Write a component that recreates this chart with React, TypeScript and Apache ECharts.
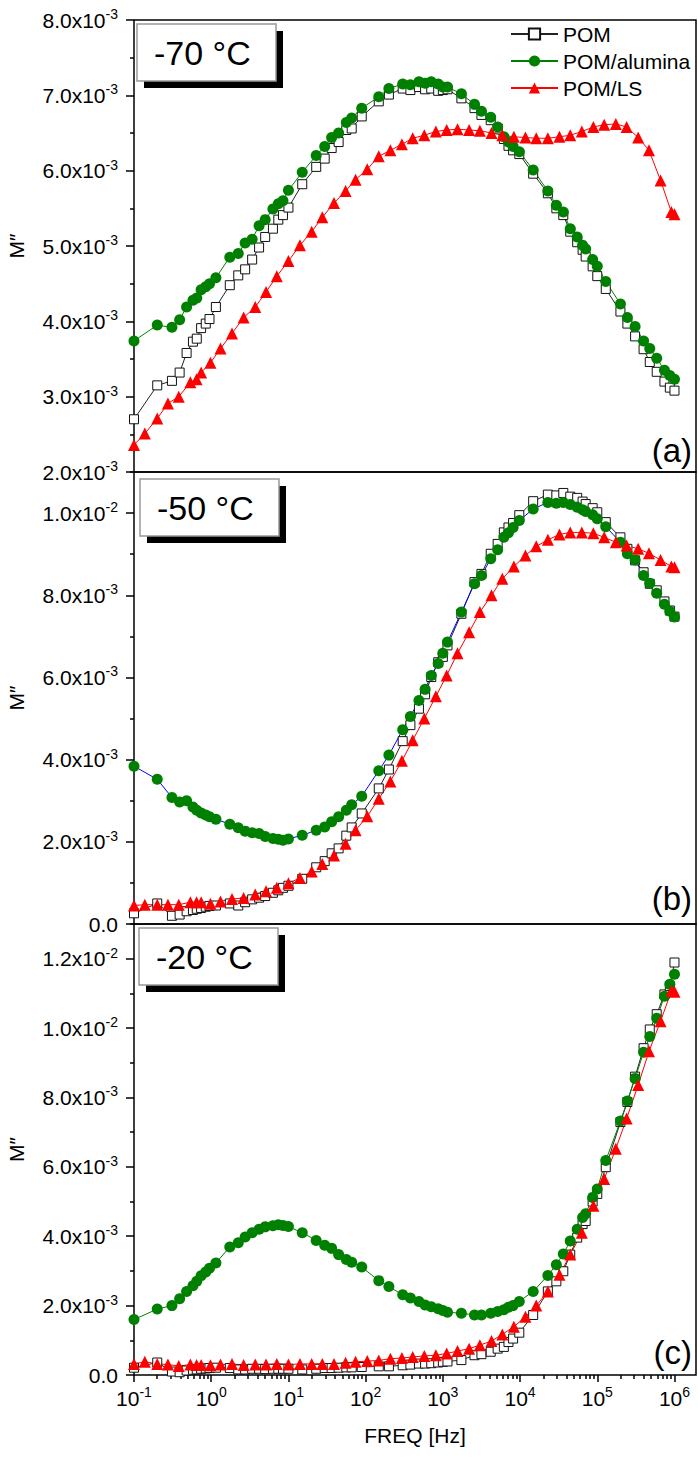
import React, { useEffect, useRef } from 'react';
import * as echarts from 'echarts';

const FONT = '"Liberation Sans", Arial, Helvetica, sans-serif';

// Frequencies [Hz] shared by POM and POM/alumina
const freqG = [
  0.1, 0.2, 0.31, 0.39, 0.48, 0.58, 0.65, 0.74, 0.85, 0.95,
  1.15, 1.74, 2.24, 2.75, 3.39, 4.17, 5.0, 6.3, 7.4, 8.5,
  10, 15.1, 22.9, 29.5, 36.3, 44.7, 56.2, 66, 89, 148,
  200, 302, 380, 490, 589, 708, 871, 1000, 1148, 1738,
  2570, 3162, 4169, 5129, 6166, 7079, 8128, 9772, 14791, 22909,
  29512, 36308, 44668, 54954, 64565, 70795, 87096, 100000, 128825, 199526,
  245471, 309030, 398107, 478630, 588844, 741310, 870964, 1000000,
];

// Frequencies [Hz] of POM/LS
const freqLS = [
  0.1, 0.138, 0.2, 0.275, 0.38, 0.537, 0.646, 0.741, 0.977, 1.32,
  1.86, 2.63, 3.72, 5.13, 7.08, 10, 14.1, 20, 27.5, 38.9,
  55, 74, 105, 148, 209, 295, 407, 575, 813, 1122,
  1549, 2188, 3020, 4266, 5888, 8318, 11749, 16218, 22909, 32359,
  44668, 63096, 89125, 123027, 173780, 239883, 338844, 467735, 660693, 912011,
  1000000,
];

// M'' values in units of 1e-3
const pomA = [
  2.70, 3.15, 3.21, 3.32, 3.58, 3.73, 3.77, 3.91, 3.97, 4.03,
  4.19, 4.48, 4.61, 4.69, 4.82, 4.98, 5.12, 5.23, 5.35, 5.41,
  5.51, 5.82, 6.05, 6.16, 6.30, 6.38, 6.54, 6.56, 6.72, 6.92,
  7.01, 7.09, 7.07, 7.11, 7.08, 7.09, 7.06, 7.07, 7.08, 6.96,
  6.83, 6.74, 6.67, 6.56, 6.42, 6.33, 6.27, 6.22, 5.96, 5.70,
  5.50, 5.41, 5.19, 5.05, 4.95, 4.86, 4.73, 4.60, 4.43, 4.13,
  3.97, 3.80, 3.63, 3.46, 3.33, 3.20, 3.12, 3.08,
];
const aluA = [
  3.74, 3.95, 3.92, 4.02, 4.19, 4.28, 4.31, 4.42, 4.46, 4.50,
  4.58, 4.85, 4.90, 5.04, 5.09, 5.27, 5.35, 5.49, 5.56, 5.60,
  5.74, 5.98, 6.20, 6.32, 6.44, 6.50, 6.64, 6.70, 6.83, 6.98,
  7.09, 7.15, 7.14, 7.18, 7.16, 7.18, 7.15, 7.11, 7.11, 7.02,
  6.88, 6.79, 6.71, 6.58, 6.45, 6.38, 6.32, 6.25, 6.01, 5.73,
  5.54, 5.45, 5.23, 5.12, 5.01, 4.96, 4.82, 4.73, 4.53, 4.23,
  4.05, 3.93, 3.74, 3.64, 3.51, 3.35, 3.28, 3.23,
];
const lsA = [
  2.36, 2.51, 2.71, 2.91, 3.00, 3.19, 3.23, 3.32, 3.45, 3.64,
  3.84, 4.05, 4.19, 4.39, 4.60, 4.80, 5.01, 5.19, 5.38, 5.57,
  5.73, 5.88, 6.02, 6.19, 6.27, 6.35, 6.43, 6.47, 6.52, 6.54,
  6.55, 6.54, 6.53, 6.50, 6.47, 6.45, 6.44, 6.43, 6.43, 6.45,
  6.47, 6.52, 6.58, 6.61, 6.62, 6.58, 6.44, 6.27, 5.87, 5.45,
  5.42,
];

const pomB = [
  0.26, 0.50, 0.20, 0.23, 0.31, 0.34, 0.37, 0.39, 0.42, 0.44,
  0.45, 0.50, 0.45, 0.53, 0.60, 0.64, 0.68, 0.76, 0.82, 0.88,
  0.93, 1.10, 1.38, 1.53, 1.72, 1.84, 2.15, 2.35, 2.69, 3.30,
  3.76, 4.45, 4.84, 5.24, 5.59, 6.01, 6.37, 6.50, 6.78, 7.55,
  8.32, 8.52, 9.01, 9.25, 9.53, 9.65, 9.76, 9.95, 10.29, 10.45,
  10.43, 10.49, 10.40, 10.37, 10.28, 10.22, 10.12, 10.02, 9.78, 9.41,
  9.13, 8.85, 8.56, 8.28, 8.12, 7.85, 7.63, 7.48,
];
const aluB = [
  3.84, 3.52, 3.08, 2.97, 3.00, 2.85, 2.77, 2.70, 2.65, 2.61,
  2.55, 2.43, 2.34, 2.26, 2.22, 2.20, 2.13, 2.08, 2.06, 2.04,
  2.07, 2.16, 2.28, 2.36, 2.49, 2.61, 2.77, 2.90, 3.11, 3.73,
  4.11, 4.73, 5.05, 5.44, 5.71, 6.05, 6.34, 6.59, 6.86, 7.59,
  8.28, 8.48, 8.89, 9.11, 9.41, 9.52, 9.65, 9.82, 10.10, 10.26,
  10.24, 10.26, 10.21, 10.14, 10.08, 10.04, 9.96, 9.86, 9.67, 9.29,
  9.01, 8.86, 8.48, 8.29, 8.05, 7.78, 7.61, 7.47,
];
const lsB = [
  0.45, 0.47, 0.47, 0.47, 0.47, 0.53, 0.53, 0.53, 0.49, 0.55,
  0.61, 0.63, 0.72, 0.80, 0.88, 0.99, 1.12, 1.28, 1.46, 1.67,
  1.95, 2.28, 2.62, 3.05, 3.47, 3.97, 4.47, 5.00, 5.54, 6.05,
  6.59, 7.10, 7.59, 8.00, 8.40, 8.70, 8.97, 9.19, 9.35, 9.48,
  9.53, 9.53, 9.51, 9.41, 9.29, 9.21, 9.13, 9.02, 8.86, 8.70,
  8.68,
];

const pomC = [
  0.21, 0.36, 0.10, 0.08, 0.13, 0.15, 0.16, 0.18, 0.19, 0.20,
  0.21, 0.20, 0.16, 0.16, 0.18, 0.18, 0.17, 0.18, 0.18, 0.18,
  0.18, 0.16, 0.18, 0.20, 0.20, 0.21, 0.22, 0.22, 0.23, 0.25,
  0.25, 0.28, 0.30, 0.33, 0.33, 0.34, 0.36, 0.38, 0.39, 0.43,
  0.57, 0.60, 0.67, 0.76, 0.81, 0.95, 1.05, 1.22, 1.73, 2.41,
  2.70, 2.99, 3.47, 3.96, 4.35, 4.44, 5.00, 5.22, 5.99, 7.29,
  7.87, 8.60, 9.42, 9.96, 10.40, 10.97, 11.21, 11.89,
];
const aluC = [
  1.60, 1.90, 2.00, 2.20, 2.41, 2.57, 2.70, 2.86, 2.97, 3.08,
  3.23, 3.69, 3.81, 3.98, 4.10, 4.20, 4.27, 4.30, 4.33, 4.31,
  4.28, 4.10, 3.88, 3.74, 3.65, 3.47, 3.33, 3.25, 3.11, 2.72,
  2.55, 2.31, 2.22, 2.12, 2.02, 1.97, 1.91, 1.86, 1.81, 1.78,
  1.73, 1.73, 1.78, 1.83, 1.88, 1.95, 2.00, 2.12, 2.41, 2.87,
  3.18, 3.49, 3.86, 4.20, 4.54, 4.65, 5.12, 5.36, 6.18, 7.32,
  7.90, 8.55, 9.30, 9.76, 10.28, 10.92, 11.26, 11.55,
];
const lsC = [
  0.32, 0.38, 0.32, 0.30, 0.26, 0.30, 0.29, 0.29, 0.28, 0.30,
  0.32, 0.29, 0.30, 0.30, 0.32, 0.30, 0.32, 0.32, 0.32, 0.32,
  0.35, 0.38, 0.40, 0.42, 0.47, 0.49, 0.52, 0.55, 0.57, 0.62,
  0.69, 0.76, 0.86, 0.98, 1.17, 1.39, 1.68, 2.00, 2.41, 2.89,
  3.47, 4.10, 4.88, 5.65, 6.52, 7.39, 8.36, 9.33, 10.20, 11.07,
  11.05,
];

const seriesNames = ['POM', 'POM/alumina', 'POM/LS'];
const panelTitles = ['-70 \u00B0C', '-50 \u00B0C', '-20 \u00B0C'];
const panelLetters = ['(a)', '(b)', '(c)'];

// tick values (y in units of 1e-3)
const yMajorA = [2, 3, 4, 5, 6, 7, 8];
const yMinorA = [2.5, 3.5, 4.5, 5.5, 6.5, 7.5];
const yMajorB = [0, 2, 4, 6, 8, 10];
const yMinorB = [1, 3, 5, 7, 9, 11];
const yMajorC = [0, 2, 4, 6, 8, 10, 12];
const yMinorC = [1, 3, 5, 7, 9, 11, 13];
const xMajor = [0.1, 1, 10, 100, 1000, 10000, 100000, 1000000];
const xMinorSteps = [2, 3, 4, 5, 6, 7, 8, 9];

const GRID_LEFT = 134;
const GRID_W = 562;
const X_MIN = 0.1;
const X_MAX = 1.9e6;

const panels = [
  { top: 20, height: 452, yMin: 2, yMax: 8, yMajor: yMajorA, yMinor: yMinorA, pom: pomA, alu: aluA, ls: lsA, aluLine: '#008000', box: [137, 24], letterY: 450 },
  { top: 472, height: 452, yMin: 0, yMax: 11, yMajor: yMajorB, yMinor: yMinorB, pom: pomB, alu: aluB, ls: lsB, aluLine: '#0000FF', box: [140, 479], letterY: 898 },
  { top: 924, height: 451, yMin: 0, yMax: 13, yMajor: yMajorC, yMinor: yMinorC, pom: pomC, alu: aluC, ls: lsC, aluLine: '#008000', box: [139, 928], letterY: 1352 },
];

const GREEN = '#008000';
const RED = '#FF0000';

const rich = {
  b: { fontSize: 21, fontFamily: FONT, color: '#000', lineHeight: 26 },
  s: { fontSize: 14, fontFamily: FONT, color: '#000', lineHeight: 14, verticalAlign: 'top' },
};

const yFmt = (v: number) => {
  if (Math.abs(v) < 1e-9) return '{b|0.0}';
  const big = v >= 10 - 1e-9;
  const m = big ? v / 10 : v;
  return `{b|${m.toFixed(1)}x10}{s|${big ? -2 : -3}}`;
};
const xFmt = (v: number) => `{b|10}{s|${Math.round(Math.log10(v))}}`;

function buildOption() {
  const xMinor: number[] = [];
  xMajor.slice(0, -1).forEach((d) => xMinorSteps.forEach((k) => xMinor.push(k * d)));

  const grid: any[] = [];
  const xAxis: any[] = [];
  const yAxis: any[] = [];
  const series: any[] = [];
  const graphic: any[] = [];
  const tickLine = { color: '#000', width: 1.5 };

  panels.forEach((p, i) => {
    const last = i === panels.length - 1;
    grid.push({
      left: GRID_LEFT, top: p.top, width: GRID_W, height: p.height,
      show: true, borderColor: '#000', borderWidth: 1.5, backgroundColor: 'transparent',
      containLabel: false, outerBoundsMode: 'none',
    });
    xAxis.push({
      type: 'log', logBase: 10, gridIndex: i, min: X_MIN, max: X_MAX,
      axisLine: { show: false }, splitLine: { show: false },
      axisTick: { show: last, customValues: xMajor, length: 7, lineStyle: tickLine },
      axisLabel: { show: last, customValues: xMajor, formatter: xFmt, margin: 10, rich },
      name: last ? 'FREQ [Hz]' : '', nameLocation: 'middle', nameGap: 50,
      nameTextStyle: { fontSize: 21, color: '#000', fontFamily: FONT },
    });
    xAxis.push({
      type: 'log', logBase: 10, gridIndex: i, min: X_MIN, max: X_MAX, position: 'bottom',
      axisLine: { show: false }, splitLine: { show: false }, axisLabel: { show: false },
      axisTick: { show: last, customValues: xMinor, length: 4, lineStyle: tickLine },
    });
    yAxis.push({
      type: 'value', gridIndex: i, min: p.yMin, max: p.yMax, position: 'left',
      axisLine: { show: false }, splitLine: { show: false },
      axisTick: { show: true, customValues: p.yMajor, length: 8, lineStyle: tickLine },
      axisLabel: { show: true, customValues: p.yMajor, formatter: yFmt, margin: 16, rich },
      name: 'M\u2033', nameLocation: 'middle', nameGap: 107,
      nameTextStyle: { fontSize: 21, color: '#000', fontFamily: FONT },
    });
    yAxis.push({
      type: 'value', gridIndex: i, min: p.yMin, max: p.yMax, position: 'left', offset: 0,
      axisLine: { show: false }, splitLine: { show: false }, axisLabel: { show: false },
      axisTick: { show: true, customValues: p.yMinor, length: 4, lineStyle: tickLine },
    });

    const common = { type: 'line', xAxisIndex: 2 * i, yAxisIndex: 2 * i, silent: true, emphasis: { disabled: true } };
    series.push({
      ...common, name: seriesNames[0],
      data: freqG.map((f, k) => [f, p.pom[k]]),
      symbol: 'rect', symbolSize: 9,
      lineStyle: { color: '#222', width: 1 },
      itemStyle: { color: '#fff', borderColor: '#111', borderWidth: 1 },
    });
    series.push({
      ...common, name: seriesNames[1],
      data: freqG.map((f, k) => [f, p.alu[k]]),
      symbol: 'circle', symbolSize: 11,
      lineStyle: { color: p.aluLine, width: 1 },
      itemStyle: { color: GREEN },
    });
    series.push({
      ...common, name: seriesNames[2],
      data: freqLS.map((f, k) => [f, p.ls[k]]),
      symbol: 'triangle', symbolSize: 12,
      lineStyle: { color: RED, width: 1 },
      itemStyle: { color: RED },
    });

    const [bx, by] = p.box;
    graphic.push({ type: 'rect', shape: { x: bx + 7, y: by + 7, width: 139, height: 57 }, style: { fill: '#000' }, silent: true, z: 10 });
    graphic.push({ type: 'rect', shape: { x: bx, y: by, width: 139, height: 57 }, style: { fill: '#fff', stroke: '#999', lineWidth: 1.5 }, silent: true, z: 11 });
    graphic.push({
      type: 'text', x: bx + 17, y: by + 29, silent: true, z: 12,
      style: { text: panelTitles[i], fontSize: 34, fontFamily: FONT, fill: '#000', align: 'left', verticalAlign: 'middle' },
    });
    graphic.push({
      type: 'text', x: 692, y: p.letterY, silent: true, z: 12,
      style: { text: panelLetters[i], fontSize: 33, fontFamily: FONT, fill: '#000', align: 'right', verticalAlign: 'middle' },
    });
  });

  return {
    animation: false,
    backgroundColor: '#fff',
    grid, xAxis, yAxis, series, graphic,
    legend: {
      data: seriesNames, orient: 'vertical', left: 510, top: 23,
      itemWidth: 47, itemHeight: 14, itemGap: 5, padding: 0,
      selectedMode: false,
      textStyle: { fontSize: 21, color: '#000', fontFamily: FONT, lineHeight: 22 },
    },
  };
}

export default function App() {
  const ref = useRef<HTMLDivElement>(null);
  useEffect(() => {
    if (!ref.current) return;
    const chart = echarts.init(ref.current, undefined, { renderer: 'svg' });
    chart.setOption(buildOption() as any);
    return () => chart.dispose();
  }, []);
  return (
    <div
      ref={ref}
      style={{ position: 'absolute', left: 0, top: 0, width: 698, height: 1458, background: '#fff' }}
    />
  );
}
